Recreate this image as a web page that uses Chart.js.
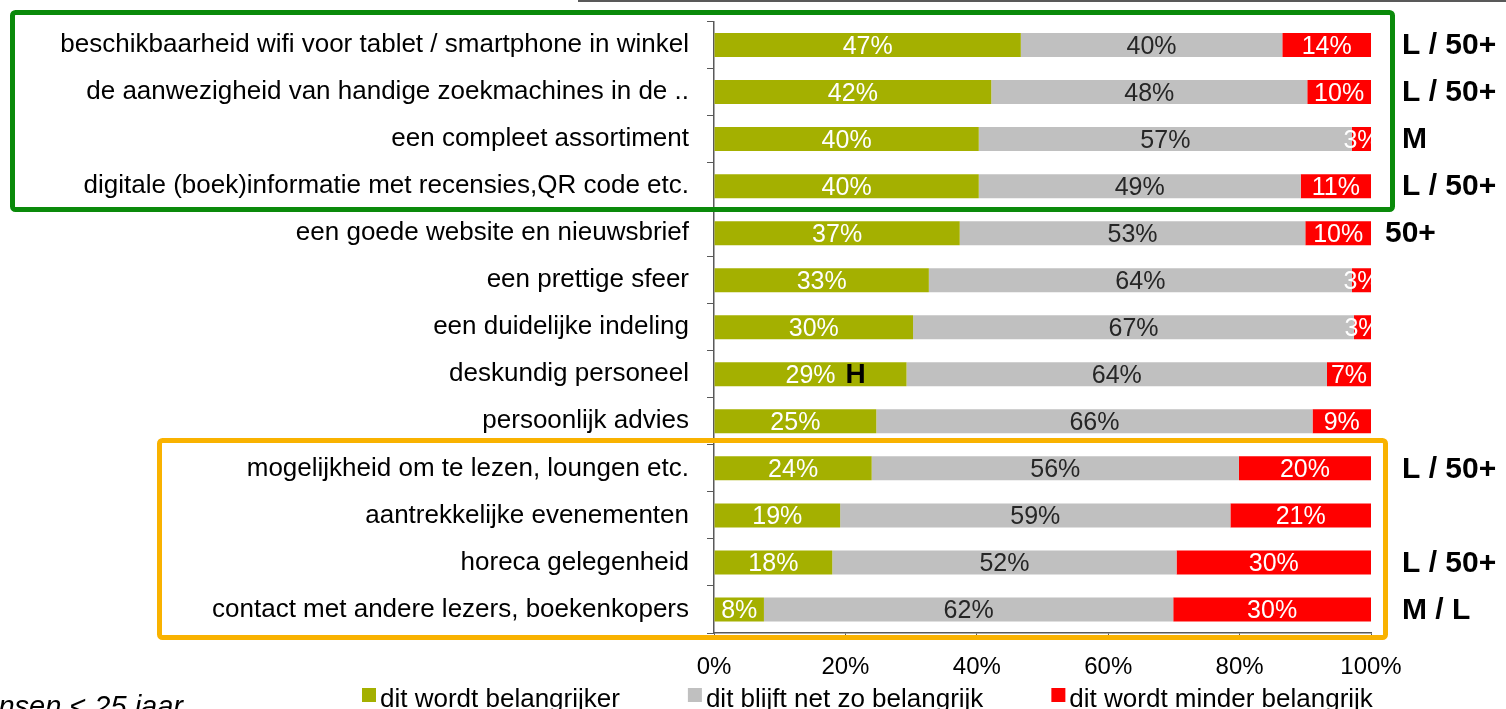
<!DOCTYPE html>
<html>
<head>
<meta charset="utf-8">
<title>Belangrijkheid winkelaspecten</title>
<script src="https://cdn.jsdelivr.net/npm/chart.js@4/dist/chart.umd.min.js"></script>
<style>
    html, body { margin: 0; padding: 0; background: #fff; overflow: hidden; }
    #wrap { width: 1506px; height: 709px; position: relative; }
</style>
</head>
<body>
<div id="wrap"><canvas id="chart" width="1506" height="709"></canvas></div>
<script>
// (percent of respondents per aspect)
const categories = [
    'beschikbaarheid wifi voor tablet / smartphone in winkel',
    'de aanwezigheid van handige zoekmachines in de ..',
    'een compleet assortiment',
    'digitale (boek)informatie met recensies,QR code etc.',
    'een goede website en nieuwsbrief',
    'een prettige sfeer',
    'een duidelijke indeling',
    'deskundig personeel',
    'persoonlijk advies',
    'mogelijkheid om te lezen, loungen etc.',
    'aantrekkelijke evenementen',
    'horeca gelegenheid',
    'contact met andere lezers, boekenkopers'
];
const belangrijker = [46.7, 42.2, 40.3, 40.3, 37.4, 32.7, 30.3, 29.3, 24.7, 24.0, 19.2, 18.0, 7.6];
const zoBelangrijk = [39.8, 48.1, 56.8, 49.0, 52.6, 64.4, 67.1, 64.0, 66.4, 55.9, 59.4, 52.4, 62.3];
const minderBelangrijk = [13.5, 9.7, 2.9, 10.7, 10.0, 2.9, 2.6, 6.7, 8.9, 20.1, 21.4, 29.6, 30.1];
const seriesNames = ['dit wordt belangrijker', 'dit blijft net zo belangrijk', 'dit wordt minder belangrijk'];
const xTicks = [0, 20, 40, 60, 80, 100];
// target group remarks right of the bars, and one inside a bar
const groupNotes = ['L / 50+', 'L / 50+', 'M', 'L / 50+', '50+', '', '', '', '', 'L / 50+', '', 'L / 50+', 'M / L'];
const barNotes = ['', '', '', '', '', '', '', 'H', '', '', '', '', ''];

const FONT = '"Liberation Sans", Arial, sans-serif';
const colors = ['#a4b000', '#c0c0c0', '#ff0000'];
const labelColors = ['#ffffff', '#262626', '#ffffff'];
const axisColor = '#595959';

// value labels centred in each segment
const valueLabels = {
    id: 'valueLabels',
    afterDatasetsDraw(chart) {
        const ctx = chart.ctx;
        ctx.save();
        ctx.font = '25px ' + FONT;
        ctx.textAlign = 'center';
        ctx.textBaseline = 'middle';
        chart.data.datasets.forEach(function (ds, di) {
            const meta = chart.getDatasetMeta(di);
            ctx.fillStyle = labelColors[di];
            meta.data.forEach(function (bar, i) {
                const p = bar.getProps(['x', 'y', 'base'], true);
                ctx.fillText(Math.round(ds.data[i]) + '%', (p.x + p.base) / 2, p.y + 2);
            });
        });
        ctx.restore();
    }
};

// frames, notes, legend and footnote
const decorations = {
    id: 'decorations',
    afterDraw(chart) {
        const ctx = chart.ctx;
        const y = chart.scales.y;
        const x = chart.scales.x;
        ctx.save();

        // grey line at the top edge
        ctx.strokeStyle = axisColor;
        ctx.lineWidth = 2;
        ctx.beginPath();
        ctx.moveTo(578, 1);
        ctx.lineTo(1506, 1);
        ctx.stroke();

        // highlight boxes
        ctx.lineWidth = 5;
        ctx.strokeStyle = '#0a8a0a';
        ctx.beginPath();
        ctx.roundRect(12.5, 12.5, 1380, 197, 3);
        ctx.stroke();
        ctx.strokeStyle = '#f9b200';
        ctx.beginPath();
        ctx.roundRect(159.5, 440.5, 1226, 197, 3);
        ctx.stroke();

        // group notes
        ctx.fillStyle = '#000';
        ctx.font = 'bold 30px ' + FONT;
        ctx.textAlign = 'left';
        ctx.textBaseline = 'middle';
        groupNotes.forEach(function (t, i) {
            if (!t) return;
            const left = t === '50+' ? 1385 : 1402;
            ctx.fillText(t, left, y.getPixelForValue(i) + 1);
        });
        ctx.font = 'bold 28px ' + FONT;
        barNotes.forEach(function (t, i) {
            if (!t) return;
            ctx.fillText(t, x.getPixelForValue(20), y.getPixelForValue(i) + 1);
        });

        // legend
        ctx.font = '26px ' + FONT;
        ctx.textBaseline = 'alphabetic';
        let lx = 362;
        seriesNames.forEach(function (name, i) {
            ctx.fillStyle = colors[i];
            ctx.fillRect(lx, 688, 14, 14);
            ctx.fillStyle = '#000';
            ctx.fillText(name, lx + 18, 707);
            lx += 18 + ctx.measureText(name).width + 68;
        });

        // footnote, cut off at the left edge
        ctx.font = 'italic 29px ' + FONT;
        ctx.textAlign = 'right';
        ctx.fillText('mensen < 25 jaar', 183, 716);
        ctx.restore();
    }
};

new Chart(document.getElementById('chart'), {
    type: 'bar',
    data: {
        labels: categories,
        datasets: [
            { label: seriesNames[0], data: belangrijker, backgroundColor: colors[0] },
            { label: seriesNames[1], data: zoBelangrijk, backgroundColor: colors[1] },
            { label: seriesNames[2], data: minderBelangrijk, backgroundColor: colors[2] }
        ]
    },
    options: {
        indexAxis: 'y',
        responsive: false,
        animation: false,
        events: [],
        layout: { padding: { top: 21.5, right: 135, bottom: 0, left: 0 } },
        datasets: { bar: { categoryPercentage: 1, barPercentage: 0.51, borderWidth: 0 } },
        plugins: { legend: { display: false }, tooltip: { enabled: false } },
        scales: {
            x: {
                stacked: true,
                min: 0,
                max: 100,
                afterBuildTicks: function (scale) {
                    scale.ticks = xTicks.map(function (v) { return { value: v }; });
                },
                afterFit: function (scale) {
                    scale.height = 709 - 633;
                    scale.paddingLeft = 0;
                    scale.paddingRight = 0;
                },
                grid: { drawOnChartArea: false, tickLength: 5, color: axisColor },
                border: { color: axisColor, width: 1.5 },
                ticks: {
                    color: '#000',
                    font: { family: FONT, size: 24 },
                    padding: 15,
                    callback: function (v) { return v + '%'; }
                }
            },
            y: {
                stacked: true,
                afterFit: function (scale) {
                    scale.width = 714;
                    scale.paddingTop = 0;
                    scale.paddingBottom = 0;
                },
                grid: { drawOnChartArea: false, tickLength: 7, color: axisColor, offset: true },
                border: { color: axisColor, width: 1.5 },
                ticks: {
                    color: '#000',
                    font: { family: FONT, size: 26 },
                    padding: 18,
                    autoSkip: false
                }
            }
        }
    },
    plugins: [valueLabels, decorations]
});
</script>
</body>
</html>
